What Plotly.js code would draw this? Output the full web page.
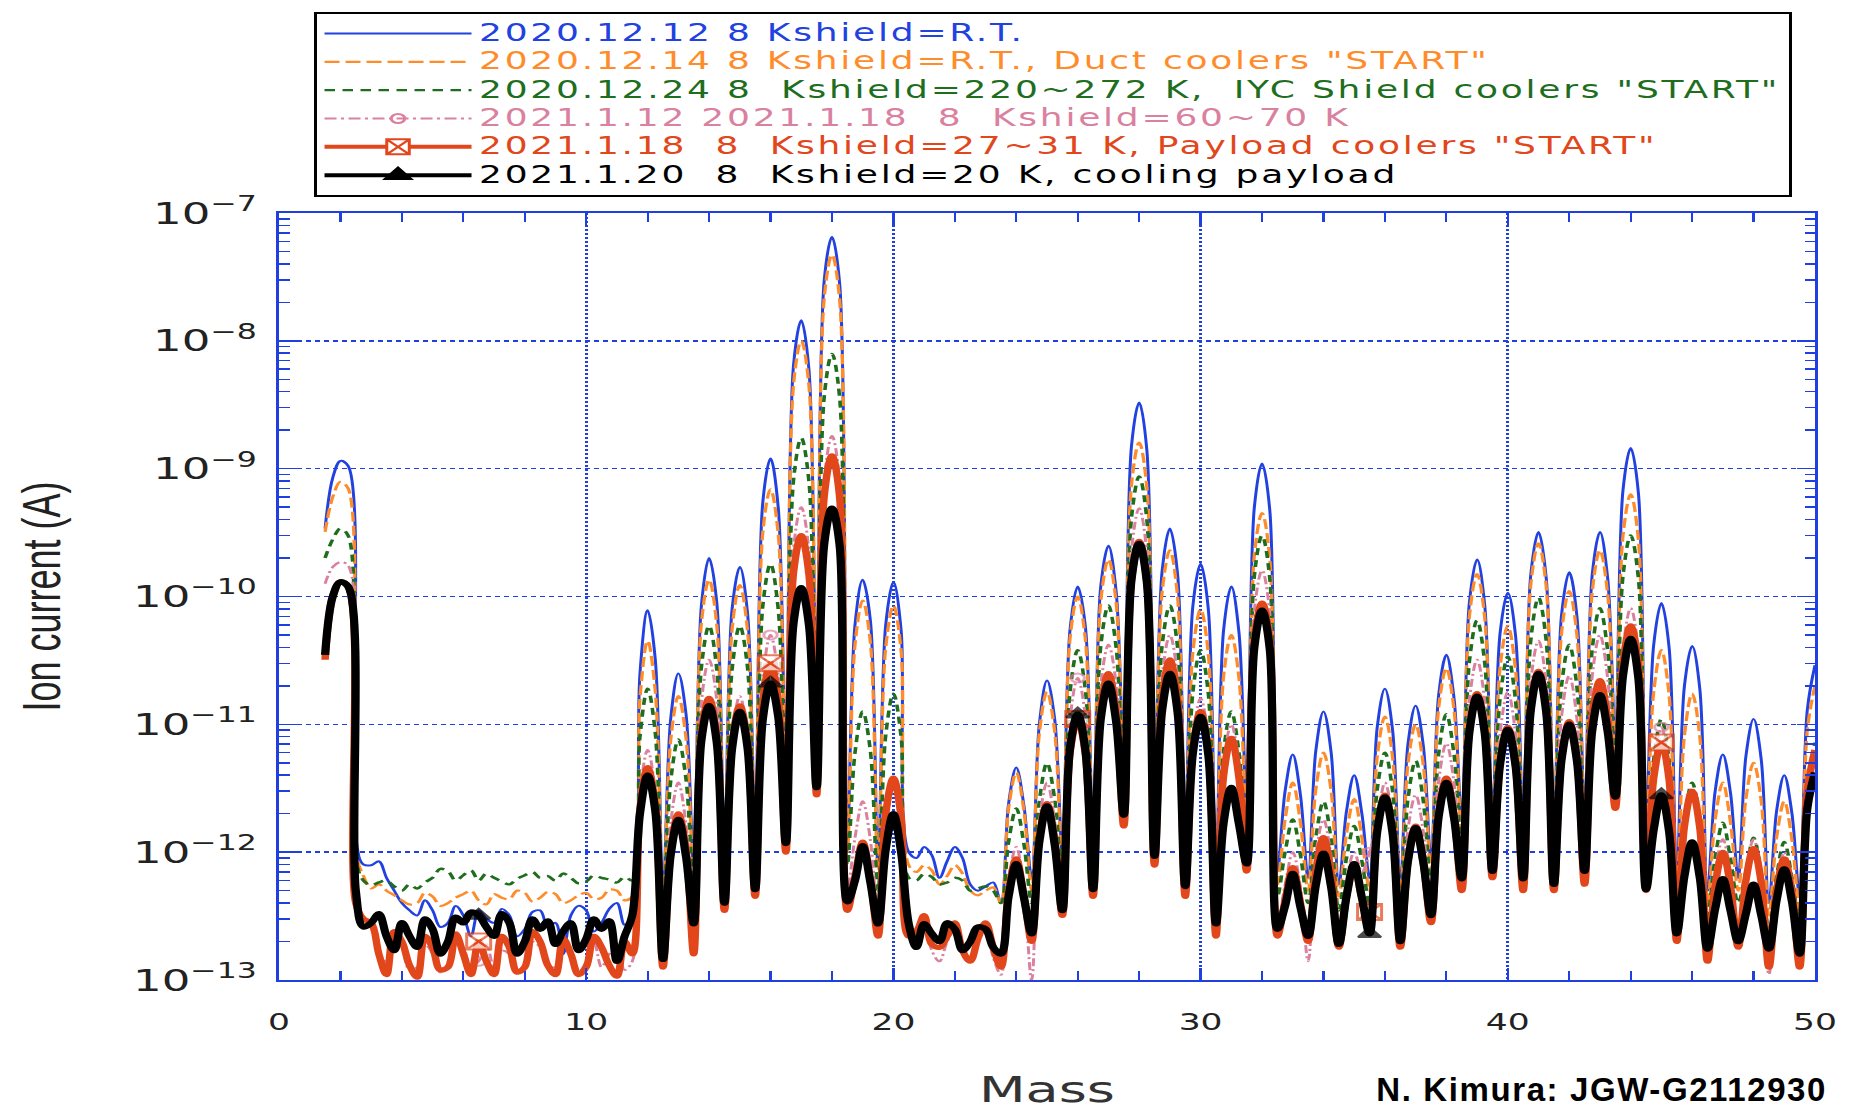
<!DOCTYPE html>
<html><head><meta charset="utf-8">
<script src="https://cdn.plot.ly/plotly-3.0.1.min.js"></script>
<style>
html,body{margin:0;padding:0;background:#fff;overflow:hidden;}
#wrap{width:1854px;height:1110px;overflow:hidden;position:relative;background:#fff;}
#plot{width:1236px;height:1110px;transform:scaleX(1.5);transform-origin:0 0;}
#credit{position:absolute;right:27px;top:1072px;font-family:'Liberation Sans',Arial,sans-serif;font-weight:bold;font-size:33px;line-height:36px;letter-spacing:1.6px;color:#000;white-space:nowrap;}
</style></head><body><div id="wrap"><div id="plot"></div><div id="credit">N. Kimura: JGW-G2112930</div></div>
<script>
// Mass samples: quarter steps (valley / shoulder / peak / shoulder / valley)
const mass = [1.5,
 1.75,2,2.25,2.5, 2.75,3,3.25,3.5, 3.75,4,4.25,4.5, 4.75,5,5.25,5.5, 5.75,6,6.25,6.5,
 6.75,7,7.25,7.5, 7.75,8,8.25,8.5, 8.75,9,9.25,9.5, 9.75,10,10.25,10.5, 10.75,11,11.25,11.5,
 11.75,12,12.25,12.5, 12.75,13,13.25,13.5, 13.75,14,14.25,14.5, 14.75,15,15.25,15.5, 15.75,16,16.25,16.5,
 16.75,17,17.25,17.5, 17.75,18,18.25,18.5, 18.75,19,19.25,19.5, 19.75,20,20.25,20.5, 20.75,21,21.25,21.5,
 21.75,22,22.25,22.5, 22.75,23,23.25,23.5, 23.75,24,24.25,24.5, 24.75,25,25.25,25.5, 25.75,26,26.25,26.5,
 26.75,27,27.25,27.5, 27.75,28,28.25,28.5, 28.75,29,29.25,29.5, 29.75,30,30.25,30.5, 30.75,31,31.25,31.5,
 31.75,32,32.25,32.5, 32.75,33,33.25,33.5, 33.75,34,34.25,34.5, 34.75,35,35.25,35.5, 35.75,36,36.25,36.5,
 36.75,37,37.25,37.5, 37.75,38,38.25,38.5, 38.75,39,39.25,39.5, 39.75,40,40.25,40.5, 40.75,41,41.25,41.5,
 41.75,42,42.25,42.5, 42.75,43,43.25,43.5, 43.75,44,44.25,44.5, 44.75,45,45.25,45.5, 45.75,46,46.25,46.5,
 46.75,47,47.25,47.5, 47.75,48,48.25,48.5, 48.75,49,49.25,49.5, 49.75,50];

const ion_20201212 = [3.4e-10,
 8.5e-10,1.15e-9,1.05e-9,1.3e-12, 8.0e-13,7.9e-13,8.5e-13,6.3e-13, 5.0e-13,4.0e-13,3.5e-13,3.2e-13, 4.2e-13,3.5e-13,2.6e-13,2.8e-13, 3.8e-13,3.2e-13,2.2e-13,3.5e-13,
 3.0e-13,2.8e-13,3.6e-13,3.2e-13, 2.2e-13,2.5e-13,3.4e-13,3.5e-13, 2.6e-13,2.8e-13,1.6e-13,3.2e-13, 3.8e-13,3.5e-13,2.4e-13,2.8e-13, 3.6e-13,4.0e-13,2.7e-13,3.2e-13,
 2.5e-11,7.8e-11,3.2e-11,5.0e-13, 1.1e-11,2.5e-11,1.2e-11,7.9e-13, 8.5e-11,2.0e-10,9.0e-11,1.26e-12, 8.0e-11,1.7e-10,7.5e-11,1.6e-12, 5.5e-10,1.2e-9,5.0e-10,4.0e-12,
 6.5e-9,1.45e-8,6.0e-9,1.0e-11, 3.0e-8,6.5e-8,2.8e-8,1.26e-12, 6.0e-11,1.35e-10,6.5e-11,7.9e-13, 6.0e-11,1.3e-10,5.5e-11,1.0e-12, 9.0e-13,1.1e-12,9.5e-13,6.3e-13,
 8.5e-13,1.1e-12,9.0e-13,5.6e-13, 5.0e-13,5.4e-13,5.8e-13,4.0e-13, 2.4e-12,4.6e-12,2.3e-12,6.3e-13, 1.0e-11,2.2e-11,1.1e-11,1.0e-12, 5.5e-11,1.2e-10,5.8e-11,1.4e-12,
 1.2e-10,2.5e-10,1.1e-10,5.6e-12, 1.5e-9,3.3e-9,1.4e-9,2.5e-12, 1.6e-10,3.4e-10,1.5e-10,1.6e-12, 8.5e-11,1.8e-10,8.0e-11,7.9e-13, 5.5e-11,1.2e-10,5.2e-11,2.2e-12,
 5.0e-10,1.1e-9,4.8e-10,7.1e-13, 3.0e-12,5.8e-12,2.8e-12,6.3e-13, 6.2e-12,1.26e-11,6.0e-12,5.6e-13, 2.1e-12,4.0e-12,2.0e-12,6.3e-13, 9.5e-12,1.9e-11,9.0e-12,5.6e-13,
 7.0e-12,1.4e-11,6.8e-12,8.9e-13, 1.7e-11,3.5e-11,1.6e-11,1.8e-12, 9.0e-11,1.95e-10,8.5e-11,2.0e-12, 5.2e-11,1.07e-10,5.0e-11,1.8e-12, 1.5e-10,3.2e-10,1.4e-10,1.6e-12,
 7.2e-11,1.55e-10,7.0e-11,2.0e-12, 1.5e-10,3.2e-10,1.4e-10,7.9e-12, 6.8e-10,1.45e-9,6.5e-10,1.6e-12, 4.2e-11,8.9e-11,4.0e-11,6.3e-13, 2.0e-11,4.1e-11,1.9e-11,5.0e-13,
 3.0e-12,5.8e-12,2.9e-12,6.3e-13, 5.6e-12,1.1e-11,5.3e-12,4.0e-13, 2.1e-12,4.0e-12,2.0e-12,4.5e-13, 1.3e-11,2.9e-11];

const ion_20201214 = [3.2e-10,
 6.0e-10,7.9e-10,7.0e-10,1.0e-12, 6.5e-13,5.2e-13,5.6e-13,5.0e-13, 4.6e-13,4.2e-13,3.9e-13,4.0e-13, 4.8e-13,4.5e-13,3.8e-13,4.0e-13, 4.4e-13,4.7e-13,5.0e-13,4.2e-13,
 3.9e-13,4.7e-13,4.4e-13,4.3e-13, 5.0e-13,4.8e-13,4.1e-13,4.4e-13, 4.9e-13,4.7e-13,4.0e-13,4.2e-13, 4.6e-13,4.8e-13,4.3e-13,4.4e-13, 5.1e-13,5.0e-13,4.2e-13,4.5e-13,
 1.6e-11,4.5e-11,1.8e-11,4.0e-13, 7.5e-12,1.66e-11,7.8e-12,6.3e-13, 6.2e-11,1.35e-10,6.0e-11,1.0e-12, 5.6e-11,1.23e-10,5.5e-11,1.26e-12, 3.2e-10,6.9e-10,3.1e-10,3.2e-12,
 4.6e-9,1.0e-8,4.5e-9,7.9e-12, 2.2e-8,4.7e-8,2.1e-8,1.0e-12, 4.2e-11,9.3e-11,4.4e-11,6.3e-13, 4.0e-11,8.5e-11,3.8e-11,7.9e-13, 7.0e-13,7.9e-13,7.2e-13,5.6e-13,
 6.5e-13,7.9e-13,6.8e-13,5.0e-13, 4.6e-13,5.0e-13,5.3e-13,4.0e-13, 2.2e-12,4.2e-12,2.1e-12,5.0e-13, 8.5e-12,1.8e-11,8.8e-12,7.9e-13, 4.7e-11,1.0e-10,4.6e-11,1.1e-12,
 9.2e-11,1.95e-10,9.0e-11,4.5e-12, 7.5e-10,1.6e-9,7.2e-10,2.0e-12, 1.1e-10,2.3e-10,1.0e-10,1.26e-12, 3.7e-11,7.9e-11,3.6e-11,6.3e-13, 2.4e-11,5.0e-11,2.3e-11,1.8e-12,
 2.1e-10,4.5e-10,2.0e-10,5.6e-13, 1.8e-12,3.5e-12,1.7e-12,5.0e-13, 3.1e-12,6.0e-12,3.0e-12,4.5e-13, 1.4e-12,2.6e-12,1.3e-12,5.0e-13, 5.6e-12,1.15e-11,5.5e-12,4.5e-13,
 4.9e-12,1.0e-11,4.8e-12,7.1e-13, 1.35e-11,2.75e-11,1.3e-11,1.4e-12, 7.0e-11,1.5e-10,6.8e-11,1.6e-12, 2.8e-11,5.9e-11,2.7e-11,1.4e-12, 1.25e-10,2.6e-10,1.2e-10,1.26e-12,
 5.2e-11,1.1e-10,5.0e-11,1.6e-12, 1.1e-10,2.3e-10,1.05e-10,6.3e-12, 3.0e-10,6.3e-10,2.8e-10,1.26e-12, 1.8e-11,3.8e-11,1.7e-11,5.0e-13, 8.2e-12,1.74e-11,8.0e-12,4.0e-13,
 1.8e-12,3.5e-12,1.7e-12,5.0e-13, 2.6e-12,5.0e-12,2.5e-12,3.2e-13, 1.3e-12,2.5e-12,1.25e-12,3.5e-13, 9.0e-12,2.0e-11];

const ion_20201224 = [2.0e-10,
 2.8e-10,3.4e-10,3.0e-10,8.9e-13, 6.0e-13,5.5e-13,5.8e-13,6.0e-13, 5.4e-13,5.0e-13,5.6e-13,5.2e-13, 5.8e-13,6.3e-13,7.4e-13,7.1e-13, 6.0e-13,6.6e-13,7.2e-13,6.0e-13,
 6.8e-13,6.3e-13,5.9e-13,5.6e-13, 6.2e-13,6.6e-13,7.0e-13,6.3e-13, 6.5e-13,6.0e-13,6.8e-13,6.3e-13, 5.7e-13,5.9e-13,6.6e-13,6.3e-13, 6.1e-13,5.8e-13,6.4e-13,6.0e-13,
 8.0e-12,1.9e-11,8.5e-12,3.2e-13, 3.6e-12,7.6e-12,3.7e-12,5.0e-13, 2.8e-11,5.9e-11,2.7e-11,7.9e-13, 2.7e-11,5.9e-11,2.8e-11,1.0e-12, 8.5e-11,1.8e-10,8.0e-11,2.5e-12,
 8.2e-10,1.74e-9,8.0e-10,6.3e-12, 3.7e-9,7.9e-9,3.6e-9,7.9e-13, 6.0e-12,1.26e-11,6.2e-12,5.0e-13, 8.2e-12,1.74e-11,8.0e-12,6.3e-13, 6.0e-13,6.8e-13,6.4e-13,5.6e-13,
 5.8e-13,6.3e-13,6.0e-13,5.0e-13, 5.2e-13,5.4e-13,5.0e-13,4.0e-13, 1.2e-12,2.2e-12,1.15e-12,4.0e-13, 2.5e-12,5.0e-12,2.6e-12,6.3e-13, 1.8e-11,3.8e-11,1.85e-11,8.9e-13,
 4.1e-11,8.5e-11,4.0e-11,3.5e-12, 4.1e-10,8.7e-10,4.0e-10,1.6e-12, 4.2e-11,8.5e-11,4.0e-11,1.0e-12, 1.8e-11,3.8e-11,1.75e-11,5.0e-13, 6.2e-12,1.26e-11,6.0e-12,1.4e-12,
 1.45e-10,3.0e-10,1.4e-10,4.5e-13, 1.0e-12,1.8e-12,9.5e-13,4.0e-13, 1.3e-12,2.5e-12,1.25e-12,3.5e-13, 9.0e-13,1.6e-12,8.5e-13,4.0e-13, 3.1e-12,6.0e-12,3.0e-12,3.5e-13,
 2.6e-12,5.2e-12,2.5e-12,5.6e-13, 5.9e-12,1.2e-11,5.8e-12,1.1e-12, 3.1e-11,6.5e-11,3.0e-11,1.26e-12, 1.6e-11,3.4e-11,1.55e-11,1.1e-12, 4.6e-11,9.8e-11,4.5e-11,1.0e-12,
 2.0e-11,4.2e-11,1.95e-11,1.26e-12, 3.9e-11,8.1e-11,3.8e-11,5.0e-12, 1.45e-10,3.0e-10,1.4e-10,1.0e-12, 5.3e-12,1.1e-11,5.2e-12,4.0e-13, 1.8e-12,3.5e-12,1.75e-12,3.2e-13,
 9.0e-13,1.7e-12,8.8e-13,4.0e-13, 7.0e-13,1.3e-12,6.8e-13,2.5e-13, 6.5e-13,1.2e-12,6.3e-13,2.8e-13, 3.4e-12,7.2e-12];

const ion_20210112 = [1.26e-10,
 1.7e-10,1.86e-10,1.75e-10,5.0e-13, 2.6e-13,2.5e-13,1.6e-13,1.4e-13, 2.2e-13,1.8e-13,1.2e-13,1.26e-13, 1.9e-13,1.6e-13,1.15e-13,1.26e-13, 2.1e-13,1.8e-13,1.3e-13,1.4e-13,
 1.9e-13,1.26e-13,1.7e-13,1.6e-13, 1.2e-13,1.3e-13,2.0e-13,1.8e-13, 1.3e-13,1.26e-13,1.9e-13,1.6e-13, 1.15e-13,1.4e-13,2.0e-13,1.26e-13, 1.6e-13,1.8e-13,1.2e-13,1.4e-13,
 2.8e-12,6.3e-12,2.9e-12,2.0e-13, 1.7e-12,3.5e-12,1.65e-12,3.5e-13, 1.5e-11,3.2e-11,1.55e-11,5.0e-13, 8.2e-12,1.66e-11,8.0e-12,6.3e-13, 2.3e-11,5.0e-11,2.4e-11,1.4e-12,
 2.4e-10,5.0e-10,2.3e-10,4.0e-12, 8.2e-10,1.8e-9,8.0e-10,5.0e-13, 1.3e-12,2.5e-12,1.25e-12,3.2e-13, 1.6e-12,3.2e-12,1.55e-12,2.5e-13, 2.2e-13,3.2e-13,1.7e-13,1.4e-13,
 2.0e-13,2.5e-13,1.6e-13,1.4e-13, 2.0e-13,2.5e-13,1.5e-13,1.1e-13, 6.0e-13,1.1e-12,5.0e-13,1.0e-13, 1.7e-12,3.5e-12,1.75e-12,4.0e-13, 1.1e-11,2.3e-11,1.15e-11,6.3e-13,
 2.0e-11,4.2e-11,2.1e-11,2.2e-12, 2.3e-10,4.9e-10,2.2e-10,1.1e-12, 2.4e-11,5.0e-11,2.3e-11,6.3e-13, 7.5e-12,1.6e-11,7.6e-12,3.2e-13, 5.0e-12,1.0e-11,4.8e-12,1.0e-12,
 7.8e-11,1.6e-10,7.5e-11,2.8e-13, 5.5e-13,1.0e-12,5.3e-13,1.4e-13, 9.5e-13,1.8e-12,9.2e-13,2.5e-13, 6.0e-13,1.0e-12,7.0e-13,1.0e-12, 1.8e-12,3.5e-12,1.75e-12,2.0e-13,
 1.5e-12,2.8e-12,1.45e-12,3.5e-13, 3.6e-12,7.1e-12,3.5e-12,6.3e-13, 1.55e-11,3.2e-11,1.5e-11,7.9e-13, 8.6e-12,1.8e-11,8.5e-12,6.3e-13, 2.2e-11,4.5e-11,2.1e-11,6.3e-13,
 1.15e-11,2.4e-11,1.1e-11,7.9e-13, 2.4e-11,5.0e-11,2.3e-11,3.2e-12, 3.9e-11,8.1e-11,3.8e-11,6.3e-13, 4.6e-12,9.5e-12,4.5e-12,2.5e-13, 1.6e-12,3.2e-12,1.55e-12,1.6e-13,
 7.0e-13,1.26e-12,6.8e-13,2.2e-13, 7.0e-13,1.26e-12,6.6e-13,1.1e-13, 5.5e-13,1.0e-12,5.4e-13,1.6e-13, 2.3e-12,5.0e-12];

const ion_20210118 = [3.2e-11,
 1.0e-10,1.3e-10,1.2e-10,4.0e-13, 3.0e-13,2.8e-13,1.6e-13,1.1e-13, 2.4e-13,2.0e-13,1.3e-13,1.05e-13, 2.2e-13,1.8e-13,1.2e-13,1.26e-13, 2.3e-13,1.6e-13,1.1e-13,2.0e-13,
 1.4e-13,1.1e-13,2.2e-13,1.8e-13, 1.15e-13,1.26e-13,2.4e-13,2.0e-13, 1.3e-13,1.1e-13,2.1e-13,1.6e-13, 1.1e-13,1.26e-13,2.2e-13,1.8e-13, 1.3e-13,1.07e-13,2.0e-13,1.6e-13,
 2.2e-12,4.6e-12,2.3e-12,1.26e-13, 1.0e-12,2.0e-12,1.05e-12,1.6e-13, 8.5e-12,1.6e-11,8.0e-12,3.5e-13, 7.0e-12,1.4e-11,7.2e-12,4.5e-13, 1.5e-11,3.0e-11,1.55e-11,1.0e-12,
 1.55e-10,3.0e-10,1.5e-10,2.8e-12, 6.2e-10,1.26e-9,6.0e-10,3.5e-13, 6.5e-13,1.2e-12,6.2e-13,2.2e-13, 2.0e-12,3.8e-12,1.9e-12,2.2e-13, 2.4e-13,3.2e-13,1.9e-13,1.8e-13,
 2.2e-13,2.8e-13,1.7e-13,1.4e-13, 2.1e-13,2.8e-13,1.8e-13,1.26e-13, 5.0e-13,8.9e-13,4.5e-13,2.0e-13, 1.3e-12,2.4e-12,1.25e-12,3.2e-13, 6.0e-12,1.1e-11,5.8e-12,4.5e-13,
 1.3e-11,2.5e-11,1.25e-11,1.6e-12, 1.35e-10,2.7e-10,1.3e-10,7.9e-13, 1.6e-11,3.2e-11,1.55e-11,4.5e-13, 6.5e-12,1.26e-11,6.2e-12,2.2e-13, 4.0e-12,7.8e-12,3.8e-12,7.1e-13,
 4.6e-11,8.9e-11,4.5e-11,2.2e-13, 4.2e-13,7.6e-13,4.0e-13,2.0e-13, 7.0e-13,1.3e-12,6.8e-13,1.8e-13, 4.5e-13,8.1e-13,4.4e-13,3.4e-13, 1.5e-12,2.8e-12,1.45e-12,1.8e-13,
 8.5e-13,1.6e-12,8.2e-13,2.8e-13, 2.0e-12,3.8e-12,1.95e-12,5.0e-13, 9.0e-12,1.74e-11,8.8e-12,6.3e-13, 5.0e-12,9.5e-12,4.8e-12,5.0e-13, 1.35e-11,2.6e-11,1.3e-11,5.0e-13,
 5.5e-12,1.05e-11,5.4e-12,5.6e-13, 1.15e-11,2.2e-11,1.1e-11,2.2e-12, 3.0e-11,5.9e-11,2.9e-11,5.0e-13, 3.8e-12,7.2e-12,3.7e-12,2.0e-13, 1.6e-12,3.0e-12,1.55e-12,1.4e-13,
 5.5e-13,1.0e-12,5.4e-13,1.8e-13, 6.0e-13,1.07e-12,5.8e-13,1.26e-13, 5.0e-13,8.9e-13,4.8e-13,1.26e-13, 3.0e-12,6.3e-12];

const ion_20210120 = [3.5e-11,
 1.0e-10,1.3e-10,1.2e-10,5.0e-13, 2.6e-13,2.8e-13,3.3e-13,2.2e-13, 1.7e-13,2.8e-13,2.2e-13,1.8e-13, 3.0e-13,2.5e-13,1.6e-13,2.0e-13, 3.1e-13,2.8e-13,3.4e-13,3.2e-13,
 2.6e-13,2.2e-13,3.3e-13,2.8e-13, 1.6e-13,2.0e-13,3.0e-13,2.5e-13, 2.9e-13,1.9e-13,2.4e-13,2.8e-13, 1.7e-13,2.1e-13,3.0e-13,2.5e-13, 2.9e-13,1.4e-13,2.2e-13,3.2e-13,
 2.0e-12,4.0e-12,2.1e-12,1.45e-13, 9.5e-13,1.8e-12,9.2e-13,2.75e-13, 7.5e-12,1.4e-11,7.2e-12,4.0e-13, 6.5e-12,1.26e-11,6.6e-12,5.1e-13, 1.1e-11,2.1e-11,1.15e-11,1.17e-12,
 6.2e-11,1.17e-10,6.0e-11,3.2e-12, 2.6e-10,4.9e-10,2.5e-10,4.1e-13, 6.0e-13,1.12e-12,5.8e-13,2.75e-13, 1.05e-12,2.0e-12,1.0e-12,2.75e-13, 1.8e-13,2.75e-13,2.3e-13,2.0e-13,
 2.8e-13,2.5e-13,1.7e-13,2.0e-13, 2.6e-13,2.5e-13,1.8e-13,1.6e-13, 4.5e-13,8.1e-13,4.4e-13,2.3e-13, 1.2e-12,2.3e-12,1.15e-12,3.5e-13, 6.5e-12,1.2e-11,6.3e-12,5.1e-13,
 1.1e-11,2.1e-11,1.05e-11,1.95e-12, 1.35e-10,2.6e-10,1.3e-10,9.3e-13, 1.3e-11,2.5e-11,1.25e-11,5.4e-13, 6.0e-12,1.15e-11,5.8e-12,2.75e-13, 1.7e-12,3.2e-12,1.65e-12,8.1e-13,
 4.0e-11,7.8e-11,3.9e-11,2.5e-13, 3.8e-13,6.8e-13,3.7e-13,2.2e-13, 5.5e-13,9.8e-13,5.3e-13,1.9e-13, 4.5e-13,8.1e-13,4.4e-13,2.3e-13, 1.45e-12,2.7e-12,1.4e-12,2.0e-13,
 8.5e-13,1.55e-12,8.3e-13,3.2e-13, 1.9e-12,3.5e-12,1.85e-12,6.2e-13, 8.7e-12,1.66e-11,8.5e-12,7.1e-13, 4.9e-12,9.1e-12,4.8e-12,6.2e-13, 1.3e-11,2.5e-11,1.25e-11,5.6e-13,
 5.3e-12,1.0e-11,5.2e-12,7.1e-13, 9.0e-12,1.7e-11,8.8e-12,2.7e-12, 2.4e-11,4.7e-11,2.3e-11,5.1e-13, 1.5e-12,2.8e-12,1.45e-12,2.3e-13, 6.5e-13,1.2e-12,6.3e-13,1.75e-13,
 3.6e-13,6.2e-13,3.5e-13,2.0e-13, 3.3e-13,5.6e-13,3.2e-13,1.75e-13, 4.2e-13,7.4e-13,4.1e-13,1.6e-13, 2.2e-12,4.2e-12];

// masses at which the plot symbols are drawn
const markerMass = [6.5, 16, 26, 35.5, 45];

const seriesNames = [
 '2020.12.12 8 Kshield=R.T.',
 '2020.12.14 8 Kshield=R.T., Duct coolers "START"',
 '2020.12.24 8\u00a0 Kshield=220~272 K,\u00a0 IYC Shield coolers "START"',
 '2021.1.12 2021.1.18\u00a0 8\u00a0 Kshield=60~70 K',
 '2021.1.18\u00a0 8\u00a0 Kshield=27~31 K, Payload coolers "START"',
 '2021.1.20\u00a0 8\u00a0 Kshield=20 K, cooling payload'
];
const seriesValues = [ion_20201212, ion_20201214, ion_20201224, ion_20210112, ion_20210118, ion_20210120];

const styles = [
 {color:'#2141e0', width:2,   dash:'solid'},
 {color:'#ff8c2a', width:2.2, dash:'10px,4px'},
 {color:'#1e6e1e', width:2.4, dash:'7px,5px'},
 {color:'#d9819f', width:2,   dash:'8px,3px,2px,3px', symbol:'circle-open', msize:9, fill:'#d9819f'},
 {color:'#e2461b', width:5,   dash:'solid', symbol:'square-x', msize:16, fill:'#ffffff'},
 {color:'#000000', width:5.5, dash:'solid', symbol:'triangle-up', msize:13, fill:'#000000'}
];

const traces = [];
seriesValues.forEach((vals, i) => {
  const st = styles[i];
  const t = {
    type:'scatter', x: mass, y: vals, showlegend:false, hoverinfo:'skip',
    mode: st.symbol ? 'lines+markers' : 'lines',
    line:{color:st.color, width:st.width, dash:st.dash, shape:'spline', smoothing:1}
  };
  if (st.symbol) {
    t.marker = {symbol:st.symbol, size: mass.map(m => markerMass.includes(m) ? st.msize : 0),
                color: st.fill, line:{color:st.color, width:2}};
  }
  traces.push(t);
});
// legend entries (no data of their own)
seriesValues.forEach((vals, i) => {
  const st = styles[i];
  const t = {
    type:'scatter', x:[null], y:[null], showlegend:true, hoverinfo:'skip',
    name: '<span style="font-size:24px;letter-spacing:1.85px;color:' + st.color + '">' + seriesNames[i] + '</span>',
    mode: st.symbol ? 'lines+markers' : 'lines',
    line:{color:st.color, width:Math.min(st.width,4), dash:st.dash}
  };
  if (st.symbol) t.marker = {symbol:st.symbol, size: st.symbol==='circle-open'?9:15, color:st.fill, line:{color:st.color, width:2}};
  traces.push(t);
});

const axBlue = '#1f3fe0';
const layout = {
  width:1236, height:1110, autosize:false,
  margin:{l:186, r:26, t:208, b:130},
  paper_bgcolor:'#ffffff', plot_bgcolor:'#ffffff',
  font:{family:'DejaVu Sans', color:'#222'},
  showlegend:true,
  legend:{x:0.0228, y:1.2617, xanchor:'left', yanchor:'top', bgcolor:'#ffffff',
          bordercolor:'#000000', borderwidth:2, font:{family:'DejaVu Sans', size:19.5, color:'#222'},
          itemwidth:98, tracegroupgap:0, traceorder:'normal'},
  xaxis:{range:[0,50], tick0:0, dtick:10, ticks:'inside', ticklen:12, tickwidth:1.5, tickcolor:axBlue,
         showline:true, linecolor:axBlue, linewidth:2, mirror:'allticks',
         showgrid:true, gridcolor:axBlue, gridwidth:2, griddash:'2px,2px', zeroline:false,
         tickfont:{family:'DejaVu Sans', size:23, color:'#222'}, ticklabelstandoff:20,
         minor:{dtick:2, ticks:'inside', ticklen:9, tickwidth:1.5, tickcolor:axBlue, showgrid:false},
         title:{text:'Mass', font:{family:'DejaVu Sans', size:36, color:'#333'}, standoff:47}},
  yaxis:{type:'log', range:[-13,-7], dtick:1, exponentformat:'power', ticks:'inside', ticklen:12,
         tickwidth:1.5, tickcolor:axBlue, showline:true, linecolor:axBlue, linewidth:2, mirror:'allticks',
         showgrid:true, gridcolor:axBlue, gridwidth:1.5, griddash:'3px,3px', zeroline:false,
         tickfont:{family:'DejaVu Sans', size:24, color:'#222'}, ticklabelstandoff:8,
         minor:{dtick:'D1', ticks:'inside', ticklen:7, tickwidth:1.5, tickcolor:axBlue, showgrid:false},
         title:{text:'Ion current (A)', font:{family:'Liberation Sans', size:36, color:'#222'}, standoff:37}}
};

Plotly.newPlot('plot', traces, layout, {displayModeBar:false, staticPlot:true});
</script></body></html>
